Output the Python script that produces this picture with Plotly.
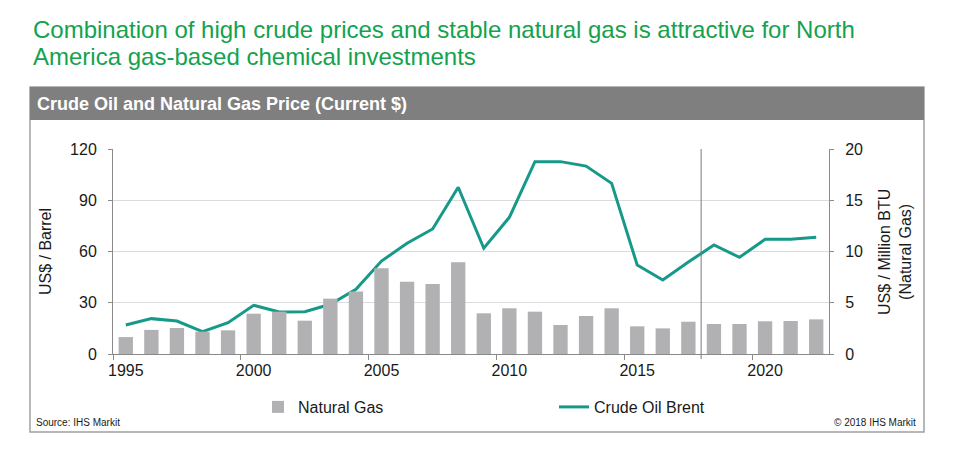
import plotly.graph_objects as go

years = list(range(1995, 2023))
natural_gas = [1.65, 2.35, 2.54, 2.18, 2.31, 3.93, 4.13, 3.25, 5.40, 6.10,
               8.36, 7.05, 6.83, 8.95, 3.97, 4.46, 4.13, 2.83, 3.71, 4.46,
               2.70, 2.50, 3.15, 2.93, 2.93, 3.19, 3.22, 3.38]
crude_brent = [17.0, 20.7, 19.3, 13.1, 18.3, 28.5, 24.6, 24.8, 29.1, 37.9,
               54.4, 64.8, 73.2, 97.6, 61.9, 80.0, 112.6, 112.6, 110.0, 99.9,
               52.1, 43.3, 53.8, 63.8, 56.6, 67.1, 67.2, 68.3]
x_tick_labels = [1995, 2000, 2005, 2010, 2015, 2020]
left_ticks = [0, 30, 60, 90, 120]
right_ticks = [0, 5, 10, 15, 20]
forecast_start = 2017.5

W, H = 959, 457
FONT = "Liberation Sans, Arial, sans-serif"
GREEN = "#14a24f"
TEAL = "#17998a"
BAR = "#b1b1b3"
AXIS = "#8a8a8a"

def px(x):
    return x / W

def py(y):
    return 1 - y / H

fig = go.Figure()
fig.add_trace(go.Bar(x=years, y=natural_gas, name="Natural Gas", yaxis="y2",
                     marker=dict(color=BAR, line=dict(width=0)), width=0.56,
                     legend="legend"))
fig.add_trace(go.Scatter(x=years, y=crude_brent, name="Crude Oil Brent", mode="lines",
                         line=dict(color=TEAL, width=3), yaxis="y",
                         legend="legend2"))

fig.update_layout(
    width=W, height=H,
    margin=dict(l=0, r=0, t=0, b=0, pad=0, autoexpand=False),
    paper_bgcolor="white", plot_bgcolor="white",
    font=dict(family=FONT, size=16, color="#1a1a1a"),
    xaxis=dict(domain=[px(113), px(829)], range=[1994.5, 2022.5],
               tickvals=x_tick_labels, ticks="", showgrid=False,
               showline=True, linecolor=AXIS, linewidth=1,
               ticklabelstandoff=2, automargin=False,
               minor=dict(tick0=1994.5, dtick=5, ticks="outside", ticklen=5,
                          tickcolor=AXIS, showgrid=False),
               zeroline=False, anchor="y"),
    yaxis=dict(domain=[py(354), py(149)], range=[0, 120], tickvals=left_ticks,
               ticks="outside", ticklen=4, tickcolor=AXIS, automargin=False,
               showline=True, linecolor=AXIS, linewidth=1,
               showgrid=True, gridcolor="#dcdcdc", gridwidth=1,
               zeroline=False, ticklabelstandoff=8,
               title=dict(text="US$ / Barrel", standoff=14,
                          font=dict(size=16))),
    yaxis2=dict(domain=[py(354), py(149)], range=[0, 20], tickvals=right_ticks,
                overlaying="y", side="right", anchor="x", automargin=False,
                ticks="outside", ticklen=4, tickcolor=AXIS,
                showline=True, linecolor=AXIS, linewidth=1,
                showgrid=False, zeroline=False, ticklabelstandoff=8),
    legend=dict(orientation="h", x=px(258), y=py(407), xanchor="left", yanchor="middle",
                font=dict(size=16), bgcolor="rgba(0,0,0,0)", itemwidth=30),
    legend2=dict(orientation="h", x=px(554), y=py(407), xanchor="left", yanchor="middle",
                 font=dict(size=16), bgcolor="rgba(0,0,0,0)", itemwidth=30),
    showlegend=True,
    bargap=0.44,
)

shapes = [
    dict(type="rect", xref="paper", yref="paper", x0=px(30), x1=px(924),
         y0=py(432), y1=py(87), line=dict(color="#a0a0a0", width=1.5),
         fillcolor="rgba(0,0,0,0)", layer="below"),
    dict(type="rect", xref="paper", yref="paper", x0=px(30), x1=px(924),
         y0=py(120), y1=py(87), line=dict(width=0), fillcolor="#7f7f7f",
         layer="below"),
    dict(type="line", xref="x", yref="paper", x0=forecast_start, x1=forecast_start,
         y0=py(359), y1=py(149), line=dict(color="#7a7a7a", width=1)),
]
fig.update_layout(shapes=shapes)

annotations = [
    dict(text="Combination of high crude prices and stable natural gas is attractive for North",
         x=px(31), y=py(29), xref="paper", yref="paper", xanchor="left", yanchor="middle",
         showarrow=False, font=dict(size=24, color=GREEN, family=FONT)),
    dict(text="America gas-based chemical investments",
         x=px(31), y=py(56), xref="paper", yref="paper", xanchor="left", yanchor="middle",
         showarrow=False, font=dict(size=24, color=GREEN, family=FONT)),
    dict(text="<b>Crude Oil and Natural Gas Price (Current $)</b>",
         x=px(35), y=py(104), xref="paper", yref="paper", xanchor="left", yanchor="middle",
         showarrow=False, font=dict(size=18, color="white", family=FONT)),
    dict(text="US$ / Million BTU<br>(Natural Gas)", textangle=-90,
         x=px(895), y=py(252), xref="paper", yref="paper", xanchor="center", yanchor="middle",
         showarrow=False, font=dict(size=16, color="#1a1a1a", family=FONT)),
    dict(text="Source: IHS Markit",
         x=px(34), y=py(422), xref="paper", yref="paper", xanchor="left", yanchor="middle",
         showarrow=False, font=dict(size=10, color="#1a1a1a", family=FONT)),
    dict(text="© 2018 IHS Markit",
         x=px(918), y=py(422), xref="paper", yref="paper", xanchor="right", yanchor="middle",
         showarrow=False, font=dict(size=10, color="#1a1a1a", family=FONT)),
]
fig.update_layout(annotations=annotations)

fig.write_html("out.html",
               config={"displayModeBar": False},
               post_script="document.body.style.margin='0';document.body.style.overflow='hidden';")
